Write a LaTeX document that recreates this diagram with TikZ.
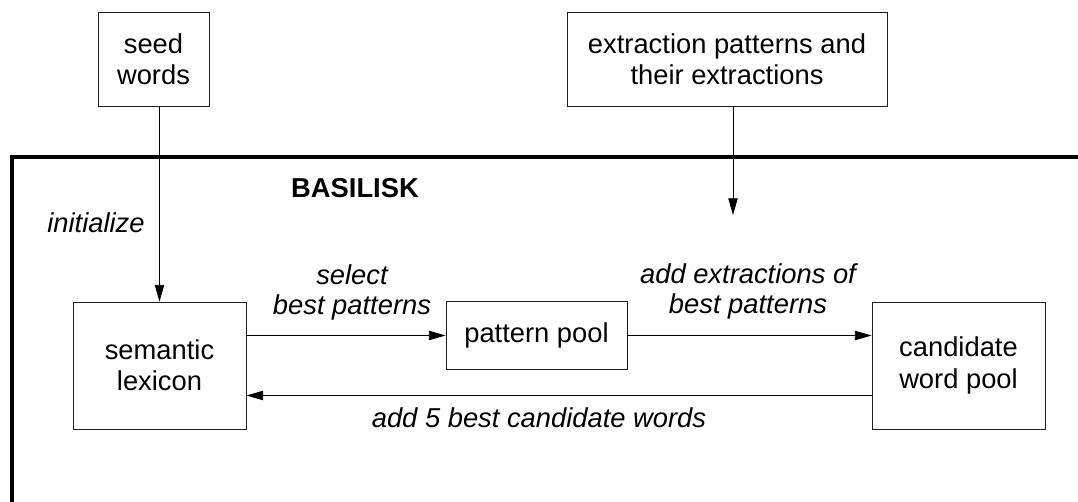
\documentclass[tikz,border=0pt]{standalone}
\usepackage{fontspec}
\setmainfont{Liberation Sans}
\usepackage{tikz}
\usetikzlibrary{arrows.meta}
\usetikzlibrary{calc}

\tikzset{
  blk/.style={draw={rgb, 255:red, 30; green, 30; blue, 30 }, line width=0.6pt, align=center, inner sep=0pt, font=\fontsize{20.5}{23.5}\selectfont},
  lbl/.style={inner sep=0pt, align=center, font=\fontsize{20.5}{22.5}\selectfont\itshape},
  flow/.style={line width=0.6pt, -{Triangle[length=12.5pt,width=7pt]}}
}

\begin{document}
\begin{tikzpicture}[x=0.75pt,y=0.75pt,yscale=-1,xscale=1]
\useasboundingbox (0,0) rectangle (1078,502);

%Outer frame
\draw [line width=3pt]  (12,505) -- (12,157) -- (1082,157) ;

% Boxes
\node [blk, minimum width=83.25pt, minimum height=70.5pt] (seed) at (153.5,59) {seed\\words};
\node [blk, minimum width=240pt, minimum height=70.5pt] (ext) at (727,59) {extraction patterns and\\their extractions};
\node [blk, minimum width=129.75pt, minimum height=95.25pt] (lex) at (159.5,365.5) {semantic\\lexicon};
\node [blk, minimum width=135.75pt, minimum height=51pt] (pool) at (536.5,335.5) {pattern pool};
\node [blk, minimum width=129.75pt, minimum height=95.25pt] (cand) at (958.5,365.5) {candidate\\word pool};
\coordinate (exttip) at (733,215);
\coordinate (back) at ($(cand.west)+(0,30)$);

%Straight Lines
\draw [flow] (lex.north |- seed.south) -- (lex.north) ;
\draw [flow] (exttip |- ext.south) -- (exttip) ;
\draw [flow] (pool.west -| lex.east) -- (pool.west) ;
\draw [flow] (pool.east) -- (pool.east -| cand.west) ;
\draw [flow] (back) -- (back -| lex.east) ;

% Text Node
\node [inner sep=0pt, anchor=base, font=\fontsize{20.5}{22.5}\selectfont\bfseries] (title) at (355,198) {BASILISK};
% Text Node
\node [lbl, anchor=base] (init) at (96,233) {initialize};
% Text Node
\node [lbl] (sel) at (352,292.5) {select\\best patterns};
% Text Node
\node [lbl] (addext) at (748,291) {add extractions of\\best patterns};
% Text Node
\node [lbl, anchor=base] (addcand) at (539,427) {add 5 best candidate words};

\end{tikzpicture}
\end{document}
